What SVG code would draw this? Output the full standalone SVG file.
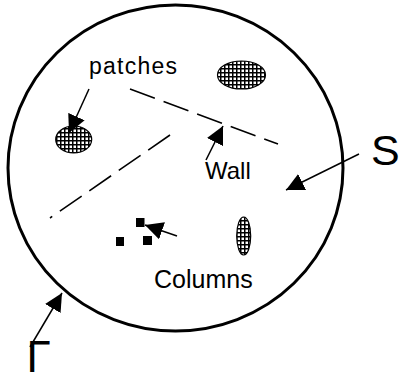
<svg xmlns="http://www.w3.org/2000/svg" width="399" height="375" viewBox="0 0 399 375">
  <style>
    .lbl { font-family: "Liberation Sans", Arial, sans-serif; fill: #000; }
    .dash { fill: none; stroke: #000; stroke-width: 1.6; stroke-dasharray: 26.5 9.3; }
    .arrow { fill: none; stroke: #000; stroke-width: 1.5; marker-end: url(#head); }
    .patch { fill: url(#grid); stroke: #000; stroke-width: 1.2; }
  </style>
  <defs>
    <pattern id="grid" width="4" height="4" patternUnits="userSpaceOnUse">
      <rect width="4" height="4" fill="#fff"/>
      <path d="M0,0.75 H4 M0.75,0 V4" stroke="#000" stroke-width="1.5"/>
    </pattern>
    <marker id="head" markerUnits="userSpaceOnUse" markerWidth="18" markerHeight="18" refX="18" refY="9" orient="auto">
      <path d="M0,0 L18,9 L0,18 Z" fill="#000"/>
    </marker>
  </defs>

  <!-- domain boundary -->
  <g id="domain">
    <ellipse cx="175.5" cy="168" rx="167.5" ry="163" fill="none" stroke="#000" stroke-width="3"/>
  </g>

  <!-- walls -->
  <g id="walls">
    <line class="dash" x1="130" y1="89" x2="278" y2="144"/>
    <line class="dash" x1="170" y1="135" x2="50" y2="218" stroke-dasharray="26 10"/>
  </g>

  <!-- patches -->
  <g id="patch-left">
    <ellipse class="patch" cx="73.7" cy="139.5" rx="18" ry="13.5"/>
  </g>
  <g id="patch-top">
    <ellipse class="patch" cx="241.5" cy="75" rx="24" ry="14"/>
  </g>

  <!-- columns -->
  <g id="columns">
    <rect x="136" y="218" width="8.5" height="9"/>
    <rect x="143" y="236" width="9" height="9"/>
    <rect x="116" y="237" width="8" height="9"/>
    <ellipse class="patch" cx="243.7" cy="236" rx="7" ry="19"/>
  </g>

  <!-- labels -->
  <g id="label-patches"><text class="lbl" x="89" y="74" font-size="23" textLength="88">patches</text></g>
  <g id="label-wall"><text class="lbl" x="205" y="179" font-size="24">Wall</text></g>
  <g id="label-columns"><text class="lbl" x="154" y="288" font-size="25">Columns</text></g>
  <g id="label-S"><text class="lbl" x="371" y="165" font-size="43">S</text></g>
  <g id="label-gamma"><text class="lbl" x="26.5" y="372" font-size="44">Γ</text></g>

  <!-- connectors -->
  <g id="connectors">
    <line class="arrow" x1="89" y1="89" x2="69" y2="133"/>
    <line class="arrow" x1="206" y1="160" x2="223" y2="126"/>
    <line class="arrow" x1="359" y1="154" x2="286" y2="190"/>
    <line class="arrow" x1="177" y1="236" x2="145" y2="225"/>
    <line class="arrow" x1="30" y1="347" x2="62" y2="293"/>
  </g>
</svg>
